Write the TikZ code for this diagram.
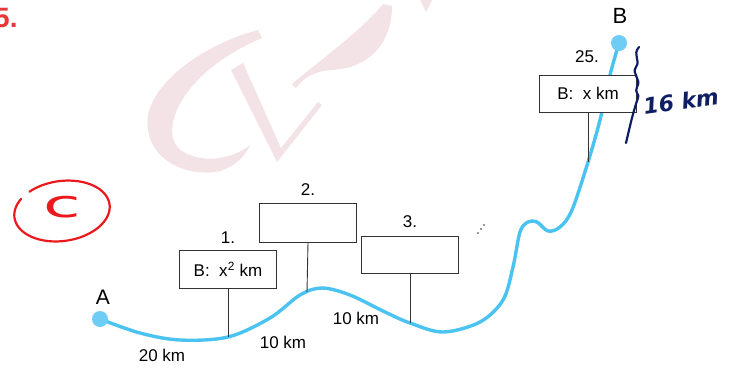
\documentclass[tikz,border=0pt]{standalone}
\usepackage{fontspec}
\setmainfont{Liberation Sans}
\newfontfamily\handfont{DejaVu Sans}
\definecolor{route}{RGB}{75,195,240}
\definecolor{dotblue}{RGB}{110,205,245}
\definecolor{inkred}{RGB}{235,25,30}
\definecolor{inknavy}{RGB}{15,30,100}
\definecolor{numred}{RGB}{232,55,55}
\definecolor{markpink}{RGB}{243,226,230}
\begin{document}
\begin{tikzpicture}[x=1pt,y=-1pt,
  sign/.style={draw=black!80, fill=white, line width=0.9pt, minimum width=97pt, minimum height=38pt,
               inner sep=0pt, font=\fontsize{17}{20}\selectfont},
  post/.style={draw=black!80, line width=0.9pt},
  lbl/.style={font=\fontsize{17}{20}\selectfont, inner sep=0pt},
  endpt/.style={circle, fill=dotblue, minimum size=16pt, inner sep=0pt},
  ink/.style={line width=2.2pt, line cap=round, line join=round}]
\useasboundingbox (0,0) rectangle (730,368);

% faint background monogram
\begin{scope}[markpink]
\fill (258,30) .. controls (200,45) and (140,90) .. (148,130)
      .. controls (152,160) and (185,176) .. (215,172)
      .. controls (230,170) and (245,158) .. (250,145)
      .. controls (232,160) and (198,165) .. (178,148)
      .. controls (160,128) and (182,72) .. (262,38) -- cycle;
\fill (231,70) -- (243,63) -- (281,148) -- (318,102) -- (322,105) -- (277,162) -- cycle;
\fill (292,84) .. controls (320,60) and (360,32) .. (383,4) -- (392,6)
      .. controls (392,40) and (372,68) .. (332,70)
      .. controls (316,71) and (305,76) .. (296,88) -- cycle;
\fill (420,0) -- (432,0) -- (426,12) -- cycle;
\end{scope}

% problem number
\node[anchor=base west, text=numred, font=\fontsize{28}{30}\selectfont\bfseries, inner sep=0pt]
  (num) at (-6,27) {5.};

% points where the posts stand on the route
\coordinate (p1) at (228,337);
\coordinate (p2) at (307,292);
\coordinate (p3) at (410,323);
\coordinate (p25) at (588,162);

% end points
\coordinate (Apos) at (100,319);
\coordinate (Bpos) at (619,43);

% the route
\draw[route, line width=3.4pt, line cap=round] plot[smooth, tension=0.55] coordinates {
  (Apos) (140,333) (180,340) (p1) (270,318) (300,295) (322,288) (350,295)
  (385,312) (p3) (443,332) (480,322) (503,300) (513,267) (520,232) (528,222)
  (537,222) (548,231) (560,227) (572,210) (p25) (600,120) (610,75) (Bpos)};

% signs on their posts
\node[sign] (s1) at (228,269) {B:\ \ x\textsuperscript{2} km};
\node[sign, minimum height=39pt] (s2) at (308,222.5) {};
\node[sign, minimum height=37pt] (s3) at (410,254.5) {};
\node[sign, minimum height=37pt] (s25) at (588,93.5) {B:\ \ x km};

\draw[post] (s1.south) -- (p1);
\draw[post] (s2.south) -- (p2);
\draw[post] (s3.south) -- (p3);
\draw[post] (s25.south) -- (p25);

\node[lbl] (n1) at (228,238) {1.};
\node[lbl] (n2) at (308,190) {2.};
\node[lbl] (n3) at (410,222) {3.};
\node[lbl] (n25) at (587,57) {25.};

% dots between the third and the last sign
\foreach \pp in {(478,233), (481,229), (484,225)}
  \fill[black!80] \pp circle (0.9pt);

\node[endpt] (A) at (Apos) {};
\node[endpt] (B) at (Bpos) {};
\node[font=\fontsize{21}{24}\selectfont, inner sep=0pt] (Alab) at (103,297) {A};
\node[font=\fontsize{22}{24}\selectfont, inner sep=0pt] (Blab) at (620,16) {B};

% distances along the route
\node[lbl] (d1) at (162,355) {20 km};
\node[lbl] (d2) at (283,342) {10 km};
\node[lbl] (d3) at (356,318) {10 km};

% handwritten brace and length
\draw[inknavy, ink] (639,47) .. controls (632,55) and (641,60) .. (636,67)
  .. controls (631,74) and (642,79) .. (637,87)
  .. controls (634,92) and (640,95) .. (638,98)
  .. controls (633,112) and (630,126) .. (626,143);
\node[text=inknavy, font=\handfont\fontsize{22}{24}\selectfont\itshape\bfseries,
      rotate=8, inner sep=0pt] (len) at (681,101) {16 km};

% handwritten circled answer
\draw[inkred, ink] plot[domain=232:576, samples=80, smooth]
  ({62+48*cos(\x)*cos(8)+30*sin(\x)*sin(8)}, {211-48*cos(\x)*sin(8)+30*sin(\x)*cos(8)});
\node[text=inkred, font=\handfont\fontsize{38}{38}\selectfont, xscale=1.8, inner sep=0pt]
  (ans) at (62,207) {c};
\end{tikzpicture}
\end{document}
